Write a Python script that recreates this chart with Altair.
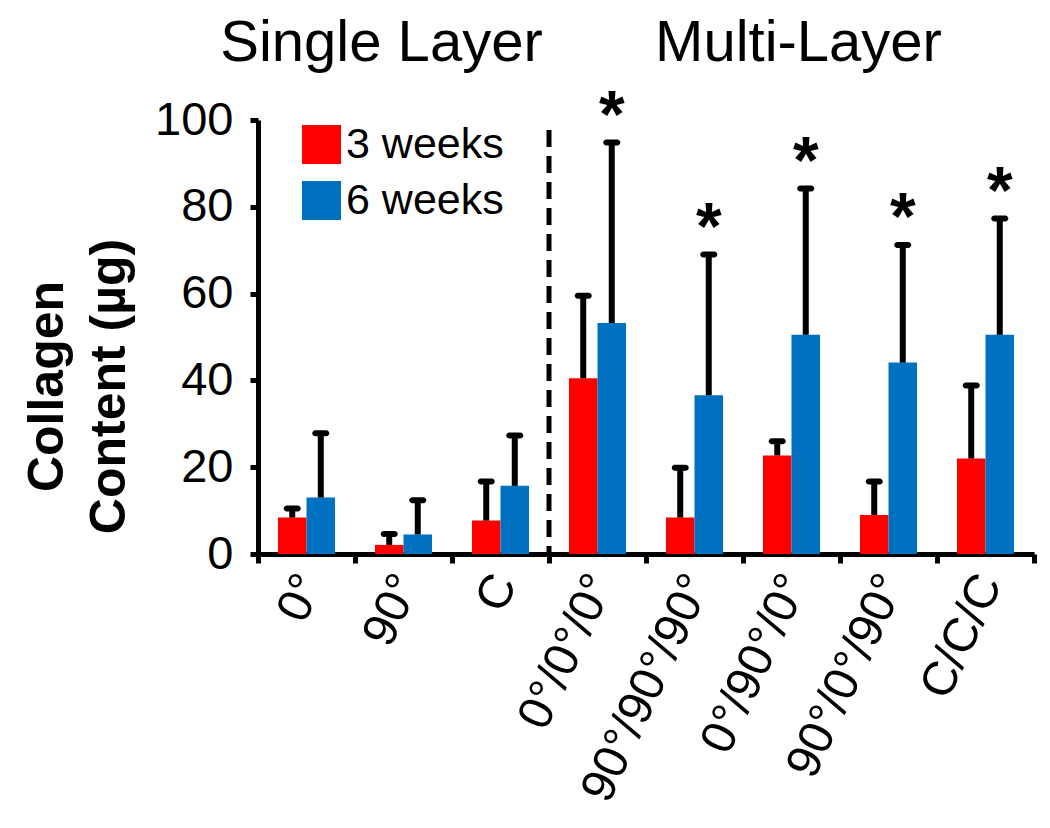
import altair as alt
import pandas as pd

# ---- data ----
categories = ["0°", "90°", "C", "0°/0°/0°", "90°/90°/90°", "0°/90°/0°", "90°/0°/90°", "C/C/C"]
weeks = ["3 weeks", "6 weeks"]
mean_3wk = [8.4, 2.1, 7.7, 40.5, 8.4, 22.7, 9.0, 22.0]
sd_3wk = [2.1, 2.5, 9.0, 19.0, 11.5, 3.3, 7.7, 16.8]
mean_6wk = [13.0, 4.5, 15.7, 53.2, 36.6, 50.5, 44.1, 50.5]
sd_6wk = [14.8, 7.9, 11.6, 41.6, 32.4, 33.7, 27.1, 26.8]
star_6wk = [False, False, False, True, True, True, True, True]
colors = ["#FF0000", "#0070C0"]
divider_category = "0°/0°/0°"
divider_top = 97.7

rows = []
for i, c in enumerate(categories):
    rows.append({"cat": c, "week": weeks[0], "mean": mean_3wk[i], "upper": mean_3wk[i] + sd_3wk[i], "star": False})
    rows.append({"cat": c, "week": weeks[1], "mean": mean_6wk[i], "upper": mean_6wk[i] + sd_6wk[i], "star": star_6wk[i]})
df = pd.DataFrame(rows)

FONT = "Liberation Sans"

x_enc = alt.X(
    "cat:N",
    scale=alt.Scale(domain=categories, paddingInner=0, paddingOuter=0),
    axis=alt.Axis(
        title=None, labelAngle=-65, labelAlign="right", labelBaseline="middle",
        labelFontSize=48, labelFont=FONT, labelColor="black", labelPadding=14,
        labelOffset=4, labelOverlap=False, labelBound=False, labelFlush=False, labelLimit=0,
        tickBand="extent", tickSize=9, tickWidth=5, tickColor="black",
        domainWidth=5, domainColor="black", grid=False,
    ),
)
xoff_enc = alt.XOffset("week:N", scale=alt.Scale(domain=weeks, paddingInner=0, paddingOuter=0.7))
y_scale = alt.Scale(domain=[0, 100], nice=False)

base = alt.Chart(df)

bars = base.mark_bar().encode(
    x=x_enc,
    xOffset=xoff_enc,
    y=alt.Y(
        "mean:Q", scale=y_scale,
        axis=alt.Axis(
            values=[0, 20, 40, 60, 80, 100], labelFontSize=47, labelFont=FONT, labelColor="black",
            labelPadding=17, tickSize=8, tickWidth=5, tickColor="black",
            domainWidth=5, domainColor="black", grid=False,
            title=["Collagen", "Content (µg)"], titleFont=FONT, titleFontSize=50,
            titleFontWeight="bold", titleColor="black", titleLineHeight=62,
            titleX=-211, titleY=266, titleAngle=270, titleAlign="center", titleBaseline="middle",
        ),
    ),
    color=alt.Color(
        "week:N", scale=alt.Scale(domain=weeks, range=colors),
        legend=alt.Legend(
            title=None, orient="none", legendX=42, legendY=3, padding=0,
            symbolType="square", symbolSize=1521, symbolStrokeWidth=0, symbolOpacity=1,
            labelFont=FONT, labelFontSize=43, labelColor="black", labelOffset=3,
            rowPadding=12, labelLimit=0,
        ),
    ),
)

err_line = base.mark_rule(color="black", strokeWidth=6).encode(
    x="cat:N", xOffset="week:N", y=alt.Y("mean:Q", scale=y_scale), y2="upper:Q"
)
err_cap = base.mark_tick(color="black", size=17, thickness=6, cornerRadius=3, opacity=1).encode(
    x="cat:N", xOffset="week:N", y=alt.Y("upper:Q", scale=y_scale)
)
stars = base.transform_filter("datum.star").mark_text(
    text="*", font=FONT, fontSize=66, fontWeight="bold", color="black", baseline="alphabetic", dy=-6
).encode(x="cat:N", xOffset="week:N", y=alt.Y("upper:Q", scale=y_scale))

divider = alt.Chart(pd.DataFrame({"c": [divider_category]})).mark_rule(
    color="black", strokeWidth=5, strokeDash=[17, 9]
).encode(
    x=alt.X("c:N", bandPosition=0),
    y=alt.YDatum(divider_top, type="quantitative"),
    y2=alt.Y2Datum(0),
)

title_single = alt.Chart(pd.DataFrame({"c": ["90°"], "t": ["Single Layer"]})).mark_text(
    font=FONT, fontSize=58, color="black", baseline="alphabetic", align="center", dx=-22
).encode(x="c:N", y=alt.value(-59), text="t:N")

title_multi = alt.Chart(pd.DataFrame({"c": ["0°/90°/0°"], "t": ["Multi-Layer"]})).mark_text(
    font=FONT, fontSize=58, color="black", baseline="alphabetic", align="center", dx=7
).encode(x="c:N", y=alt.value(-59), text="t:N")

chart = alt.layer(bars, err_line, err_cap, stars, divider, title_single, title_multi).properties(
    width=776, height=434,
    padding={"left": 250, "top": 112, "right": 6, "bottom": 264},
    autosize=alt.AutoSizeParams(type="none"),
    background="white",
).configure_view(stroke=None)

chart.save("out.html", embed_options={"renderer": "svg", "actions": False})
